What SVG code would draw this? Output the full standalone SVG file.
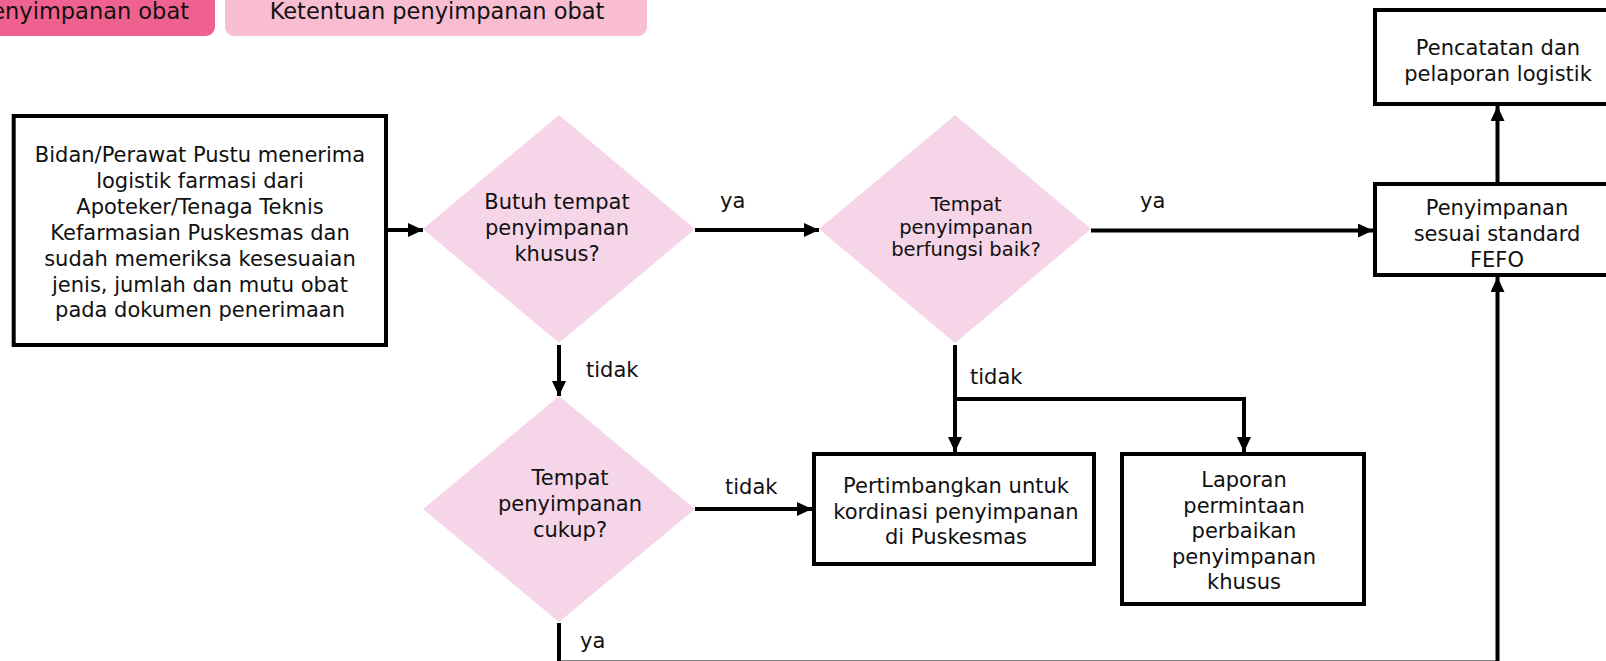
<svg xmlns="http://www.w3.org/2000/svg" width="1606" height="661" viewBox="0 0 1606 661">
  <style>
    text { font-family: "DejaVu Sans", "Liberation Sans", sans-serif; font-size: 21px; fill: #111; }
    .c { text-anchor: middle; }
    .small { font-size: 19.5px; }
    .head { font-size: 22.5px; }
    .box { fill: #fff; stroke: #000; stroke-width: 4; }
    .dec { fill: #f6d5e8; }
    .wire { fill: none; stroke: #000; stroke-width: 4; }
    .arrow { marker-end: url(#head); }
  </style>
  <defs>
    <marker id="head" markerUnits="userSpaceOnUse" markerWidth="15" markerHeight="14" refX="15" refY="7" orient="auto">
      <path d="M0,0 L15,7 L0,14 z" fill="#000"/>
    </marker>
  </defs>
  <rect width="1606" height="661" fill="#fff"/>

  <!-- tab headers -->
  <g id="tab-penyimpanan">
    <rect x="-50" y="-10" width="265" height="46" rx="9" fill="#ef6290"/>
    <text x="189" y="19" style="text-anchor:end" class="head">Penyimpanan obat</text>
  </g>
  <g id="tab-ketentuan">
    <rect x="225" y="-10" width="422" height="46" rx="9" fill="#f8bdd0"/>
    <text x="437" y="19" class="c head">Ketentuan penyimpanan obat</text>
  </g>

  <!-- connectors -->
  <g id="connectors">
    <path class="wire arrow" d="M388,230 L423,230"/>
    <path class="wire arrow" d="M695,230 L819,230"/>
    <path class="wire arrow" d="M1091,230.5 L1373,230.5"/>
    <path class="wire arrow" d="M1497.5,182 L1497.5,106"/>
    <path class="wire arrow" d="M559,345 L559,396"/>
    <path class="wire arrow" d="M695,509 L812,509"/>
    <path class="wire arrow" d="M955,345 L955,452"/>
    <path class="wire arrow" d="M955,399 L1244,399 L1244,452"/>
    <path class="wire arrow" d="M559,623 L559,662.5 L1497.5,662.5 L1497.5,277"/>
    <text x="720" y="208">ya</text>
    <text x="1140" y="208">ya</text>
    <text x="586" y="377">tidak</text>
    <text x="725" y="494">tidak</text>
    <text x="970" y="384">tidak</text>
    <text x="580" y="648">ya</text>
  </g>

  <!-- process boxes -->
  <g id="terima">
    <rect class="box" x="13.7" y="116" width="372.3" height="229"/>
    <text class="c" x="200" y="162">Bidan/Perawat Pustu menerima</text>
    <text class="c" x="200" y="187.9">logistik farmasi dari</text>
    <text class="c" x="200" y="213.8">Apoteker/Tenaga Teknis</text>
    <text class="c" x="200" y="239.7">Kefarmasian Puskesmas dan</text>
    <text class="c" x="200" y="265.6">sudah memeriksa kesesuaian</text>
    <text class="c" x="200" y="291.5">jenis, jumlah dan mutu obat</text>
    <text class="c" x="200" y="317.4">pada dokumen penerimaan</text>
  </g>

  <g id="butuh-khusus">
    <polygon class="dec" points="559,115 695,229 559,343 423,229"/>
    <text class="c" x="557" y="209">Butuh tempat</text>
    <text class="c" x="557" y="235">penyimpanan</text>
    <text class="c" x="557" y="261">khusus?</text>
  </g>

  <g id="berfungsi-baik">
    <polygon class="dec" points="955,115 1091,229 955,343 819,229"/>
    <text class="c small" x="966" y="211">Tempat</text>
    <text class="c small" x="966" y="233.5">penyimpanan</text>
    <text class="c small" x="966" y="256">berfungsi baik?</text>
  </g>

  <g id="cukup">
    <polygon class="dec" points="559,396 695,509 559,622 423,509"/>
    <text class="c" x="570" y="485">Tempat</text>
    <text class="c" x="570" y="511">penyimpanan</text>
    <text class="c" x="570" y="537">cukup?</text>
  </g>

  <g id="pertimbangkan">
    <rect class="box" x="814" y="454" width="280" height="110"/>
    <text class="c" x="956" y="493">Pertimbangkan untuk</text>
    <text class="c" x="956" y="519">kordinasi penyimpanan</text>
    <text class="c" x="956" y="544">di Puskesmas</text>
  </g>

  <g id="laporan">
    <rect class="box" x="1122" y="454" width="242" height="150"/>
    <text class="c" x="1244" y="487">Laporan</text>
    <text class="c" x="1244" y="512.5">permintaan</text>
    <text class="c" x="1244" y="538">perbaikan</text>
    <text class="c" x="1244" y="563.5">penyimpanan</text>
    <text class="c" x="1244" y="589">khusus</text>
  </g>

  <g id="fefo">
    <rect class="box" x="1375" y="184" width="244" height="91"/>
    <text class="c" x="1497" y="215">Penyimpanan</text>
    <text class="c" x="1497" y="241">sesuai standard</text>
    <text class="c" x="1497" y="267">FEFO</text>
  </g>

  <g id="pencatatan">
    <rect class="box" x="1375" y="10" width="244" height="94"/>
    <text class="c" x="1498" y="55">Pencatatan dan</text>
    <text class="c" x="1498" y="81">pelaporan logistik</text>
  </g>
</svg>
